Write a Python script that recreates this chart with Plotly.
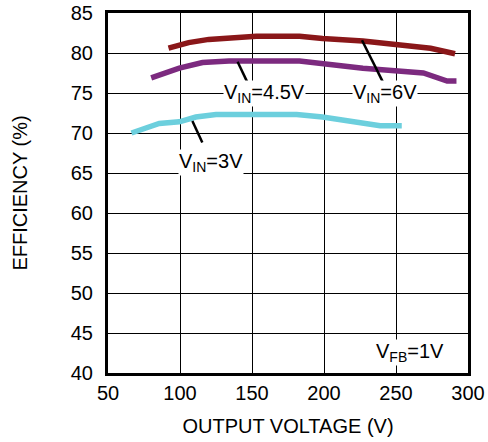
import plotly.graph_objects as go

# Data
vin6_x = [92, 106, 120, 153, 183, 199, 227, 260, 274, 291]
vin6_y = [80.6, 81.3, 81.7, 82.1, 82.1, 81.8, 81.5, 80.8, 80.6, 79.9]

vin45_x = [80, 99.5, 115.6, 134, 183, 227, 269, 285.5, 292]
vin45_y = [76.9, 78.1, 78.8, 79.0, 79.0, 78.1, 77.5, 76.5, 76.5]

vin3_x = [66.3, 85.6, 99.5, 111, 125, 181, 199, 239, 254]
vin3_y = [70.0, 71.2, 71.4, 72.0, 72.3, 72.3, 72.0, 70.9, 70.9]

x_ticks = [50, 100, 150, 200, 250, 300]
y_ticks = [40, 45, 50, 55, 60, 65, 70, 75, 80, 85]

FONT = "Liberation Sans, Arial, sans-serif"

fig = go.Figure()
for xs, ys, col in [
    (vin6_x, vin6_y, "#8a1719"),
    (vin45_x, vin45_y, "#7c2a7f"),
    (vin3_x, vin3_y, "#6ccfdd"),
]:
    fig.add_trace(go.Scatter(x=xs, y=ys, mode="lines",
                             line=dict(color=col, width=5.5),
                             showlegend=False, hoverinfo="skip"))

# leader lines
leaders = [
    (140, 78.9, 146.9, 76.3),
    (226.4, 81.6, 242.5, 75.8),
    (108.6, 71.5, 115.5, 68.8),
]
for x0, y0, x1, y1 in leaders:
    fig.add_shape(type="line", x0=x0, y0=y0, x1=x1, y1=y1, xref="x", yref="y",
                  line=dict(color="black", width=2.5))

labels = [
    ("V<sub>IN</sub>=4.5V", 158.8, 74.9),
    ("V<sub>IN</sub>=6V", 242.5, 74.9),
    ("V<sub>IN</sub>=3V", 121.8, 66.3),
    ("V<sub>FB</sub>=1V", 260, 42.6),
]
for txt, x, y in labels:
    fig.add_annotation(text=txt, x=x, y=y, xref="x", yref="y", showarrow=False,
                       font=dict(family=FONT, size=20, color="black"),
                       bgcolor="white", borderpad=0,
                       xanchor="center", yanchor="middle")

axis_common = dict(
    showgrid=True, gridcolor="black", gridwidth=1,
    showline=True, linecolor="black", linewidth=3, mirror=True,
    ticks="", zeroline=False, automargin=False,
    tickfont=dict(family=FONT, size=20, color="black"),
)

fig.update_xaxes(range=[50, 300], tickvals=x_ticks,
                 title=dict(text="OUTPUT VOLTAGE (V)", font=dict(family=FONT, size=20, color="black"), standoff=16),
                 **axis_common)
fig.update_yaxes(range=[40, 85], tickvals=y_ticks, ticklabelstandoff=8,
                 title=dict(text="EFFICIENCY (%)", font=dict(family=FONT, size=20, color="black"), standoff=38),
                 **axis_common)

fig.update_layout(
    width=488, height=442,
    margin=dict(l=108, r=20, t=13, b=69),
    paper_bgcolor="white", plot_bgcolor="white",
    font=dict(family=FONT, color="black"),
    hovermode=False,
)

fig.write_html("out.html", config={"displayModeBar": False},
               post_script="document.body.style.margin='0';")
